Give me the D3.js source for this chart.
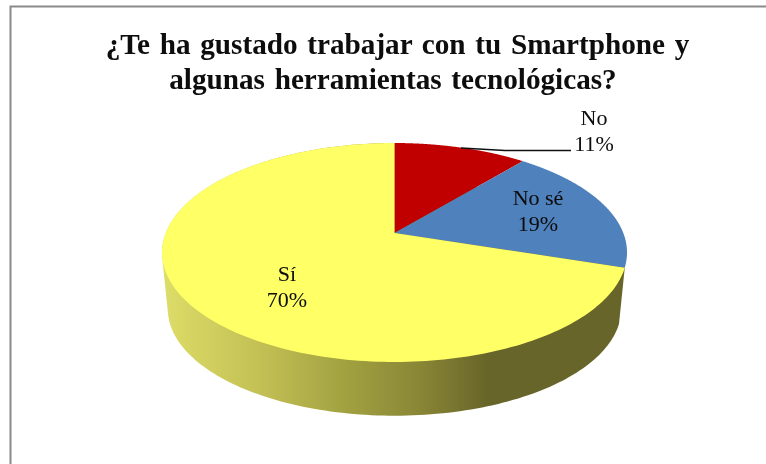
<!DOCTYPE html>
<html><head><meta charset="utf-8">
<script src="https://cdn.jsdelivr.net/npm/d3@7"></script>
<style>html,body{margin:0;padding:0;background:#fff}svg{display:block}text{font-family:"Liberation Serif",serif;fill:#0a0a0a}</style>
</head><body><script>
const titleLines = ["¿Te ha gustado trabajar con tu Smartphone y", "algunas herramientas tecnológicas?"];
const categories = ["No", "No sé", "Sí"];
const values = [11, 19, 70];
const colors = ["#c00000", "#4f81bd", "#ffff66"];
const W = 766, H = 464;
const svg = d3.select("body").append("svg").attr("width", W).attr("height", H);
const defs = svg.append("defs");
defs.append("filter").attr("id", "soft").append("feGaussianBlur").attr("stdDeviation", 0.45);
defs.append("filter").attr("id", "softText").append("feGaussianBlur").attr("stdDeviation", 0.3);
const grad = defs.append("linearGradient").attr("id", "wall").attr("gradientUnits", "userSpaceOnUse")
  .attr("x1", 165).attr("x2", 625).attr("y1", 0).attr("y2", 0);
[[0, "#dcdc68"], [0.2, "#c4c155"], [0.4, "#a0a040"], [0.55, "#8a8736"], [0.7, "#68652a"], [1, "#68652a"]]
  .forEach(s => grad.append("stop").attr("offset", s[0]).attr("stop-color", s[1]));

// frame
svg.append("path").attr("d", "M10.5,464V6.5H766").attr("fill", "none").attr("stroke", "#8a8a8a").attr("stroke-width", 2);

// title
const titleX = [397.5, 393];
svg.append("g").attr("filter", "url(#softText)").selectAll("text").data(titleLines).join("text")
  .attr("x", (d, i) => titleX[i]).attr("y", (d, i) => 53.5 + i * 35).attr("text-anchor", "middle")
  .attr("font-size", 29.2).attr("font-weight", "bold").attr("word-spacing", 2.4).text(d => d);

// perspective pie
const k = 0.178, A = 228.8, B = 106, cx = 394.5, cy = 233;
const project = (a, s, dy) => {
  const u = Math.sin(a), v = -Math.cos(a), w = 1 - k * v;
  return [cx + s * A * u / w, cy + dy + s * B * v / w];
};
const slices = d3.pie().sort(null).value(d => d)(values);
const line = d3.line();
const rim = (a0, a1, s, dy) => d3.range(0, 1.0001, 0.005).map(t => project(a0 + (a1 - a0) * t, s, dy));
const g = svg.append("g").attr("filter", "url(#soft)");
const sY = slices[2];
const hull = d3.polygonHull(rim(sY.startAngle, sY.endAngle, 1, 0).concat(rim(sY.startAngle, sY.endAngle, 0.975, 57)));
g.append("path").attr("d", line(hull) + "Z").attr("fill", "url(#wall)");
g.selectAll("path.slice").data(slices).join("path").attr("class", "slice")
  .attr("d", d => line([[cx, cy]].concat(rim(d.startAngle, d.endAngle, 1, 0))) + "Z")
  .attr("fill", (d, i) => colors[i]);

// leader for "No"
svg.append("path").attr("d", "M461,148L505,150.5H571").attr("fill", "none").attr("stroke", "#111").attr("stroke-width", 1.5);

// labels
const labelPos = [[594, 125], [538, 205], [287, 280.5]];
const lab = svg.append("g").attr("filter", "url(#softText)").selectAll("text").data(categories).join("text")
  .attr("text-anchor", "middle").attr("font-size", 22);
lab.append("tspan").attr("x", (d, i) => labelPos[i][0]).attr("y", (d, i) => labelPos[i][1]).text(d => d);
lab.append("tspan").attr("x", (d, i) => labelPos[i][0]).attr("y", (d, i) => labelPos[i][1] + 26).text((d, i) => values[i] + "%");
</script></body></html>
